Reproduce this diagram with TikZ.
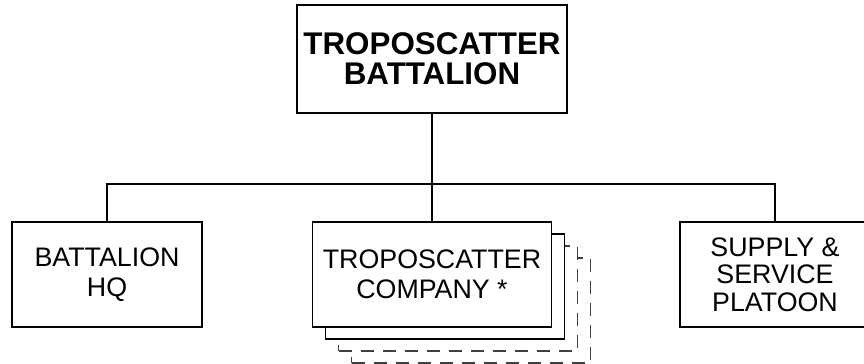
\documentclass[tikz,border=0pt]{standalone}
\usepackage{fontspec}
\setmainfont{Liberation Sans}
\begin{document}
\begin{tikzpicture}[x = .75pt, y = .75pt, line width = 1.2pt]
    \useasboundingbox (0,0) rectangle (864,364);
    \tikzset{unit/.style = {draw, fill = white, align = center, inner sep = 0pt,
        minimum width = 142.5pt, minimum height = 78.75pt,
        font = \fontsize{20.1}{22.5}\selectfont}}
    \tikzset{cobox/.style = {unit, minimum width = 179.25pt}}
    \tikzset{ghost/.style = {cobox, dash pattern = on 10pt off 6.5pt,
        line width = .8pt, draw = black!75}}
    \node (batt) at (432,305) [unit, minimum width = 202.5pt, minimum height = 81pt,
        font = \fontsize{23.5}{22.5}\bfseries\selectfont] {TROPOSCATTER\\ BATTALION};
    \node (hq) at (107,89.5) [unit] {BATTALION\\ HQ};
    \node (sup) at (775,89.5) [unit, font = \fontsize{20.1}{20.6}\selectfont] {SUPPLY \&\\ SERVICE\\ PLATOON};
    % stacked companies, back to front
    \node (co4) at (471,53.5) [ghost] {};
    \node (co3) at (458,65.5) [ghost] {};
    \node (co2) at (445,77.5) [cobox] {};
    \node (co) at (432,89.5) [cobox] {TROPOSCATTER\\ COMPANY *};
    \coordinate (bus) at (432,180);
    \draw (batt.south) -- (bus);
    \draw (hq.north) |- (bus) -| (sup.north);
    \draw (bus) -- (co.north);
\end{tikzpicture}
\end{document}
